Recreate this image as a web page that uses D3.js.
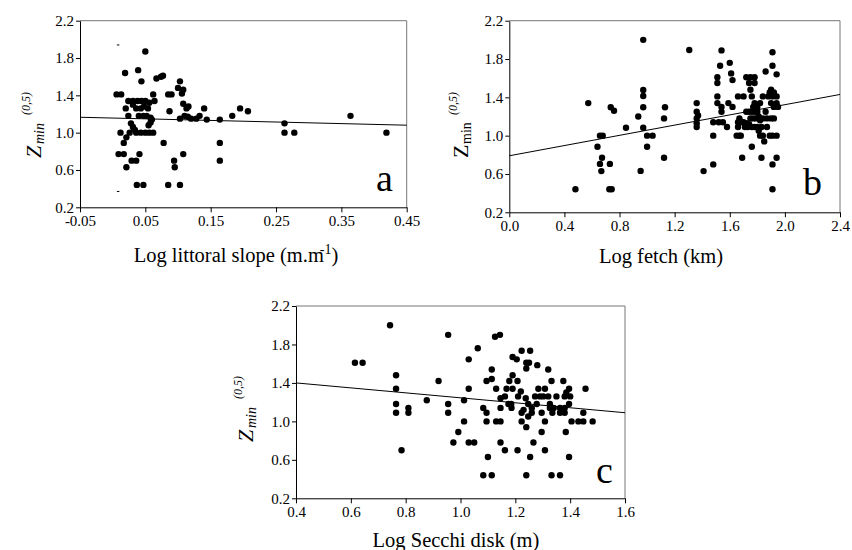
<!DOCTYPE html>
<html>
<head>
<meta charset="utf-8">
<script src="https://cdn.jsdelivr.net/npm/d3@7"></script>
<style>
  body { margin: 0; background: #fff; }
  svg text { font-family: "Liberation Serif", "Times New Roman", serif; fill: #000; }
</style>
</head>
<body>
<div id="chart"></div>
<script>
// panel a : Log littoral slope
var slopeTicks = [-0.05, 0.05, 0.15, 0.25, 0.35, 0.45];
var slopePts = [
  [0.006,1.41],[0.013,1.41],[0.019,1.64],[0.020,1.26],[0.024,1.18],[0.024,1.34],[0.012,1.0],
  [0.009,0.77],[0.017,0.77],[0.017,0.89],[0.021,0.95],[0.021,0.63],[0.028,1.10],[0.031,1.06],
  [0.026,1.0],[0.029,0.70],[0.036,0.70],[0.041,0.77],[0.037,0.44],[0.047,0.44],[0.039,1.67],
  [0.044,1.55],[0.050,1.87],[0.031,1.34],[0.038,1.34],[0.044,1.34],[0.050,1.34],[0.056,1.32],
  [0.036,1.26],[0.043,1.26],[0.048,1.28],[0.054,1.26],[0.031,1.30],[0.040,1.18],[0.047,1.18],
  [0.052,1.18],[0.058,1.16],[0.036,1.0],[0.043,1.0],[0.050,1.0],[0.056,1.0],[0.062,1.0],
  [0.034,1.03],[0.055,1.08],[0.058,1.11],[0.060,1.14],[0.062,1.41],[0.064,1.34],[0.067,1.58],
  [0.077,1.61],[0.074,1.60],[0.078,0.89],[0.085,1.41],[0.090,1.41],[0.087,1.23],[0.103,1.55],
  [0.100,1.48],[0.108,1.46],[0.106,1.42],[0.103,1.15],[0.108,1.31],[0.113,1.26],[0.116,1.28],
  [0.110,1.18],[0.115,1.17],[0.120,1.15],[0.128,1.15],[0.133,1.18],[0.140,1.26],[0.144,1.14],
  [0.108,0.77],[0.094,0.70],[0.095,0.63],[0.085,0.44],[0.103,0.44],[0.164,1.14],[0.164,0.89],
  [0.164,0.70],[0.183,1.18],[0.195,1.26],[0.207,1.23],[0.263,1.10],[0.263,1.0],[0.278,1.0],
  [0.364,1.18],[0.419,1.0]
];
var slopeFit = [[-0.05, 1.165], [0.45, 1.08]];
var slopeDashes = [[0.008, 1.94], [0.008, 0.37]];

// panel b : Log fetch
var fetchTicks = [0.0, 0.4, 0.8, 1.2, 1.6, 2.0, 2.4];
var fetchPts = [
  [0.48,0.44],[0.573,1.34],[0.64,0.885],[0.658,1.0],[0.678,1.0],[0.668,0.63],[0.658,0.705],
  [0.673,0.77],[0.726,0.44],[0.743,0.44],[0.73,0.705],[0.736,1.296],[0.76,1.26],[0.847,1.083],
  [0.936,1.2],[0.953,0.632],[0.972,2.0],[0.972,1.477],[0.972,1.414],[0.972,1.296],[0.972,1.083],
  [1.0,1.0],[1.04,1.0],[1.0,0.885],[1.123,1.18],[1.13,1.296],[1.123,0.77],[1.306,1.894],
  [1.36,1.34],[1.36,1.25],[1.37,1.21],[1.36,1.18],[1.36,1.13],[1.36,1.09],
  [1.41,0.63],[1.48,0.70],[1.48,1.0],[1.48,1.14],
  [1.54,1.89],[1.53,1.73],[1.51,1.61],[1.51,1.55],[1.51,1.41],[1.51,1.34],[1.54,1.25],
  [1.52,1.14],[1.55,1.14],[1.54,1.30],[1.58,1.09],[1.60,1.76],[1.61,1.65],[1.62,1.58],
  [1.62,1.30],[1.59,1.34],[1.65,1.0],[1.67,1.0],[1.68,1.0],[1.66,1.09],[1.66,1.14],
  [1.67,1.18],[1.66,1.41],[1.70,1.41],[1.69,0.77],[1.68,1.14],
  [1.72,1.61],[1.75,1.61],[1.78,1.61],[1.74,1.55],[1.75,1.48],[1.78,1.55],[1.76,1.41],
  [1.72,1.25],[1.74,1.25],[1.76,1.25],[1.78,1.25],[1.72,1.13],[1.74,1.12],[1.73,1.09],
  [1.76,1.09],[1.78,1.09],[1.75,1.18],[1.77,1.18],[1.79,1.18],[1.76,0.885],[1.78,1.34],
  [1.77,1.30],[1.70,1.14],[1.71,1.09],
  [1.80,1.25],[1.81,1.20],[1.82,1.16],[1.80,1.09],[1.83,1.09],[1.81,1.05],[1.82,1.0],
  [1.84,1.0],[1.85,0.94],[1.83,0.77],[1.82,1.34],[1.84,1.41],[1.86,1.67],[1.80,1.30],
  [1.84,1.18],[1.86,1.25],[1.87,1.09],[1.87,1.18],
  [1.91,1.87],[1.91,1.73],[1.90,1.48],[1.88,1.41],[1.91,1.41],[1.90,1.34],[1.92,1.30],
  [1.90,1.18],[1.92,1.18],[1.89,1.0],[1.91,1.0],[1.91,0.70],[1.91,0.44],[1.94,1.64],
  [1.94,1.41],[1.94,1.34],[1.95,1.30],[1.94,1.0],[1.94,0.77],[1.89,1.45],[1.92,1.45]
];
var fetchFit = [[0.0, 0.79], [2.4, 1.43]];

// panel c : Log Secchi disk
var secchiTicks = [0.4, 0.6, 0.8, 1.0, 1.2, 1.4, 1.6];
var secchiPts = [
  [0.615,1.61],[0.643,1.61],[0.743,2.0],[0.765,1.48],[0.765,1.34],[0.765,1.18],[0.765,1.09],
  [0.81,1.14],[0.81,1.09],[0.785,0.70],[0.877,1.22],[0.92,1.42],[0.955,1.9],[0.955,1.18],
  [0.955,1.09],[0.992,0.89],[0.974,0.78],[1.013,1.22],[1.013,1.0],[1.03,1.645],[1.03,1.34],
  [1.03,0.78],[1.05,0.78],[1.063,1.76],[1.083,1.14],[1.083,0.44],[1.095,1.42],[1.095,1.09],
  [1.095,1.0],[1.10,0.63],[1.114,1.54],[1.114,1.44],[1.114,0.44],[1.126,1.88],[1.144,1.9],
  [1.13,1.34],[1.13,1.0],[1.146,1.0],[1.146,1.24],[1.146,1.14],[1.146,0.78],[1.162,0.70],
  [1.162,1.26],[1.168,1.34],[1.178,1.42],[1.175,1.18],[1.185,1.18],[1.186,1.14],[1.19,1.48],
  [1.19,1.34],[1.19,1.67],[1.205,1.645],[1.208,1.42],[1.21,1.26],[1.22,1.31],[1.208,0.70],
  [1.223,1.735],[1.223,1.09],[1.223,1.0],[1.23,1.12],[1.238,1.24],[1.24,0.94],[1.24,0.44],
  [1.24,1.61],[1.24,1.55],[1.247,1.18],[1.247,1.05],[1.25,1.61],[1.254,1.735],[1.254,0.63],
  [1.26,1.09],[1.26,1.14],[1.266,0.78],[1.272,1.26],[1.278,1.18],[1.28,1.585],[1.284,1.34],
  [1.29,1.26],[1.296,1.09],[1.296,0.89],[1.302,1.26],[1.308,1.34],[1.308,1.0],[1.308,0.70],
  [1.32,1.26],[1.32,1.54],[1.326,1.18],[1.326,1.14],[1.332,0.44],[1.332,1.42],[1.335,1.09],
  [1.34,1.14],[1.35,1.26],[1.363,0.44],[1.363,1.14],[1.363,1.09],[1.375,1.42],[1.38,1.26],
  [1.386,1.30],[1.38,1.14],[1.38,1.09],[1.384,0.89],[1.396,1.34],[1.396,1.18],[1.396,0.63],
  [1.40,1.26],[1.405,1.0],[1.43,1.0],[1.448,1.0],[1.448,1.09],[1.456,1.34],[1.482,1.0]
];
var secchiFit = [[0.4, 1.40], [1.6, 1.09]];

var yTicks = [0.2, 0.6, 1.0, 1.4, 1.8, 2.2];

var w = 852, h = 550;
var serif = '"Liberation Serif", "Times New Roman", serif';
var svg = d3.select("#chart").append("svg")
    .attr("width", w)
    .attr("height", h);

function drawPanel(p) {
    var x = d3.scaleLinear().domain(p.xDomain).range([p.left, p.right]);
    var y = d3.scaleLinear().domain([0.2, 2.2]).range([p.bottom, p.top]);
    var g = svg.append("g");

    // frame (top / right lines are lighter)
    g.append("line").attr("x1", p.left).attr("x2", p.right).attr("y1", p.top).attr("y2", p.top)
        .style("stroke", "#777").style("stroke-width", 1);
    g.append("line").attr("x1", p.right).attr("x2", p.right).attr("y1", p.top).attr("y2", p.bottom)
        .style("stroke", "#777").style("stroke-width", 1);

    var xAxis = d3.axisBottom(x)
        .tickValues(p.xTicks)
        .tickSizeInner(5).tickSizeOuter(0).tickPadding(3)
        .tickFormat(function(d) { return d.toFixed(p.dec); });
    var yAxis = d3.axisLeft(y)
        .tickValues(yTicks)
        .tickSizeInner(4).tickSizeOuter(0).tickPadding(2)
        .tickFormat(function(d) { return d.toFixed(1); });

    g.append("g").attr("transform", "translate(0," + p.bottom + ")").call(xAxis)
        .attr("font-family", serif).attr("font-size", 15);
    g.append("g").attr("transform", "translate(" + p.left + ",0)").call(yAxis)
        .attr("font-family", serif).attr("font-size", 15);
    g.selectAll(".domain, .tick line").style("stroke", "#000");

    // fit line
    g.append("line")
        .attr("x1", x(p.fit[0][0])).attr("y1", y(p.fit[0][1]))
        .attr("x2", x(p.fit[1][0])).attr("y2", y(p.fit[1][1]))
        .style("stroke", "#000").style("stroke-width", 1);

    g.selectAll("circle.pt")
        .data(p.pts)
        .enter().append("circle")
        .attr("class", "pt")
        .attr("cx", function(d) { return x(d[0]); })
        .attr("cy", function(d) { return y(d[1]); })
        .attr("r", 3.2)
        .style("fill", "#000");

    if (p.dashes) {
        g.selectAll("line.dash")
            .data(p.dashes)
            .enter().append("line")
            .attr("class", "dash")
            .attr("x1", function(d) { return x(d[0]) - 1; })
            .attr("x2", function(d) { return x(d[0]) + 1.5; })
            .attr("y1", function(d) { return y(d[1]); })
            .attr("y2", function(d) { return y(d[1]); })
            .style("stroke", "#000").style("stroke-width", 1);
    }

    // panel letter
    g.append("text")
        .attr("x", p.letterX).attr("y", p.letterY)
        .style("font-size", "38px")
        .text(p.letter);

    // x title
    var t = g.append("text")
        .attr("x", p.titleX).attr("y", p.titleY)
        .attr("text-anchor", "middle")
        .style("font-size", "20.5px");
    t.append("tspan").text(p.title);
    if (p.titleSup) {
        t.append("tspan").attr("dx", -4).attr("dy", -8).style("font-size", "14px").text(p.titleSup);
        t.append("tspan").attr("dy", 8).text(")");
    }

    // y title: Z min (0,5), rotated
    var yl = g.append("g").attr("transform", "translate(" + p.ylabX + "," + p.ylabY + ") rotate(-90)");
    yl.append("text").attr("x", 0).attr("y", 0)
        .style("font-size", "22px").style("font-style", p.zItalic ? "italic" : "normal")
        .text("Z");
    yl.append("text").attr("x", 14).attr("y", 3)
        .style("font-size", "14px").style("font-style", p.zItalic ? "italic" : "normal")
        .text("min");
    yl.append("text").attr("x", 43).attr("y", -11)
        .style("font-size", "12px").style("font-style", "italic")
        .text("(0,5)");
}

drawPanel({
    left: 80, right: 406.7, top: 20.7, bottom: 207.3,
    xDomain: [-0.05, 0.45], xTicks: slopeTicks, dec: 2,
    pts: slopePts, fit: slopeFit, dashes: slopeDashes,
    letter: "a", letterX: 376, letterY: 191,
    title: "Log littoral slope (m.m", titleSup: "-1", titleX: 236, titleY: 262,
    ylabX: 41, ylabY: 158, zItalic: true
});

drawPanel({
    left: 509.3, right: 840, top: 20.7, bottom: 212.3,
    xDomain: [0, 2.4], xTicks: fetchTicks, dec: 1,
    pts: fetchPts, fit: fetchFit,
    letter: "b", letterX: 803, letterY: 195,
    title: "Log fetch (km)", titleX: 661, titleY: 263,
    ylabX: 468, ylabY: 158, zItalic: false
});

drawPanel({
    left: 296, right: 625, top: 306, bottom: 498.3,
    xDomain: [0.4, 1.6], xTicks: secchiTicks, dec: 1,
    pts: secchiPts, fit: secchiFit,
    letter: "c", letterX: 596, letterY: 483,
    title: "Log Secchi disk (m)", titleX: 456, titleY: 547,
    ylabX: 253, ylabY: 442, zItalic: true
});
</script>
</body>
</html>
